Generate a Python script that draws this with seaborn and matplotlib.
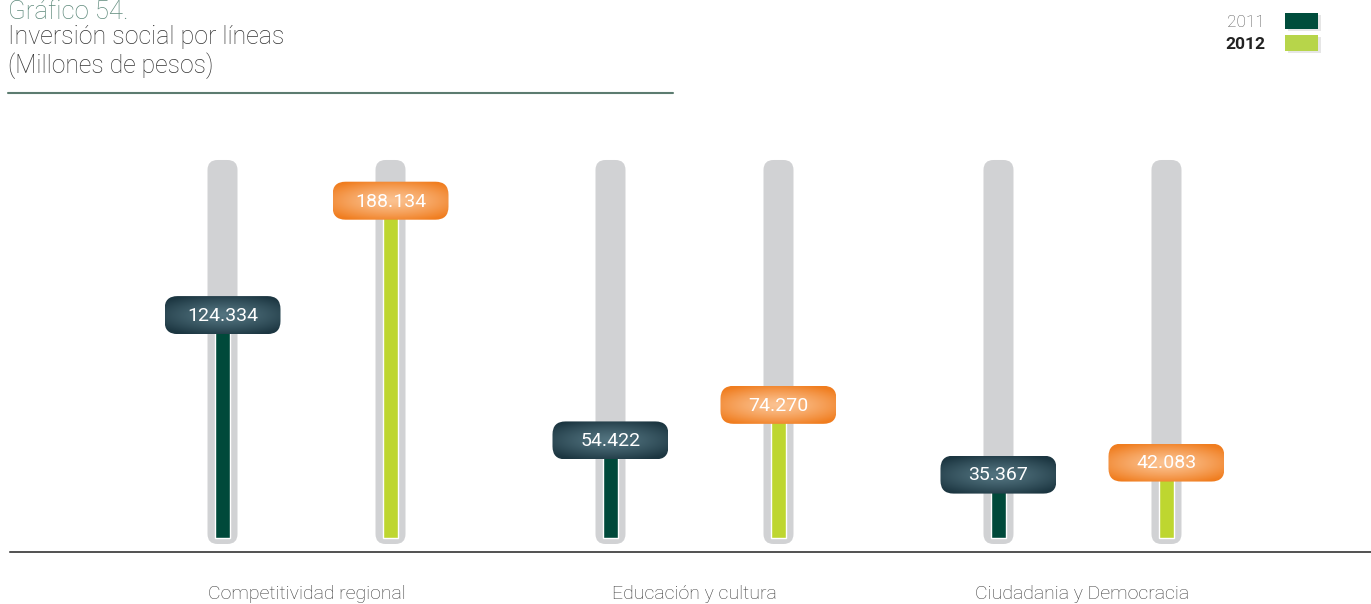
import numpy as np
import pandas as pd
import matplotlib.pyplot as plt
import seaborn as sns
from matplotlib.patches import FancyBboxPatch, Rectangle
from matplotlib.lines import Line2D
from matplotlib.colors import to_rgb

# --- data ---
lineas = ["Competitividad regional", "Educación y cultura", "Ciudadania y Democracia"]
anios = ["2011", "2012"]
valores_2011 = [124.334, 54.422, 35.367]
valores_2012 = [188.134, 74.270, 42.083]
etiquetas_2011 = ["124.334", "54.422", "35.367"]
etiquetas_2012 = ["188.134", "74.270", "42.083"]

colores = {"2011": "#00493a", "2012": "#bed630"}
tag_borde = {"2011": "#1c3641", "2012": "#f07d1f"}
tag_centro = {"2011": "#52737f", "2012": "#fbc291"}

df = pd.DataFrame({
    "linea": lineas * 2,
    "anio": ["2011"] * 3 + ["2012"] * 3,
    "valor": valores_2011 + valores_2012,
})

sns.set_style("white")
plt.rcParams["font.family"] = ["Roboto", "DejaVu Sans"]

W, H = 1371, 604
fig = plt.figure(figsize=(W / 100, H / 100), dpi=100)
ax_l, ax_r, ax_t, ax_b = 10, 1371, 100, 552
ax = fig.add_axes([ax_l / W, 1 - ax_b / H, (ax_r - ax_l) / W, (ax_b - ax_t) / H])
XLIM = (-0.7642, 2.7436)
YLIM = (-7.81, 244.3)
SX = (ax_r - ax_l) / (XLIM[1] - XLIM[0])   # px per x unit
SY = (ax_b - ax_t) / (YLIM[1] - YLIM[0])   # px per y unit

sns.barplot(data=df, x="linea", y="valor", hue="anio", hue_order=anios,
            palette=colores, width=0.866, dodge=True, legend=False,
            saturation=1, ax=ax, zorder=3)


def etiqueta(x, y, texto, borde, centro):
    w, h = 116 / SX, 38 / SY
    caja = FancyBboxPatch((x - w / 2, y - h / 2), w, h,
                          boxstyle=f"round,pad=0,rounding_size={13 / SX}",
                          mutation_aspect=SX / SY, facecolor="none",
                          edgecolor="none", zorder=4)
    ax.add_patch(caja)
    U, V = np.meshgrid(np.linspace(-1, 1, 160), np.linspace(-1, 1, 50))
    r = np.clip(np.sqrt(0.75 * U ** 2 + V ** 2) / 1.15, 0, 1) ** 1.3
    c0, c1 = np.array(to_rgb(centro)), np.array(to_rgb(borde))
    img = c0 + (c1 - c0) * r[..., None]
    im = ax.imshow(img, extent=(x - w / 2, x + w / 2, y - h / 2, y + h / 2),
                   zorder=4, interpolation="bilinear", origin="lower")
    im.set_clip_path(caja)
    ax.text(x, y - 0.5, texto, color="white", ha="center", va="center",
            fontsize=14, zorder=5)


riel_w = 30 / SX
barra_w = 15 / SX
for anio, cont, textos in zip(anios, ax.containers, [etiquetas_2011, etiquetas_2012]):
    for bar, txt in zip(cont, textos):
        cx = bar.get_x() + bar.get_width() / 2
        top = bar.get_height()
        bar.set_x(cx - barra_w / 2)
        bar.set_width(barra_w)
        # grey track behind the bar
        riel = FancyBboxPatch((cx - riel_w / 2, -6 / SY), riel_w, 384 / SY,
                              boxstyle=f"round,pad=0,rounding_size={10 / SX}",
                              mutation_aspect=SX / SY, facecolor="#d1d2d4",
                              edgecolor="none", zorder=1)
        ax.add_patch(riel)
        etiqueta(cx, top, txt, tag_borde[anio], tag_centro[anio])

ax.set_aspect("auto")
ax.set_xlim(*XLIM)
ax.set_ylim(*YLIM)
ax.set_xlabel("")
ax.set_ylabel("")
ax.set_yticks([])
for s in ["left", "right", "top"]:
    ax.spines[s].set_visible(False)
ax.spines["bottom"].set_color("#222222")
ax.spines["bottom"].set_linewidth(1.1)
ax.tick_params(axis="x", length=0, pad=24, labelsize=14, labelcolor="#3a3a3a")
for lbl in ax.get_xticklabels():
    lbl.set_fontweight("light")

# --- title block ---
fig.text(8 / W, 1 - 19 / H, "Gráfico 54.", fontsize=18.5, color="#5f8a7c",
         fontweight="light", va="baseline")
fig.text(8 / W, 1 - 44 / H, "Inversión social por líneas", fontsize=18,
         color="#333333", fontweight="light", va="baseline")
fig.text(8 / W, 1 - 73 / H, "(Millones de pesos)", fontsize=17.8,
         color="#333333", fontweight="light", va="baseline")
fig.add_artist(Line2D([8 / W, 673 / W], [1 - 93 / H, 1 - 93 / H],
                      color="#5c7c70", lw=1.5))

# --- legend ---
leg_colores = {"2011": "#004d3c", "2012": "#b7d54a"}
for i, anio in enumerate(anios):
    yc = 21 + 22 * i
    fig.text(1265 / W, 1 - (yc + 6) / H, anio, ha="right", va="baseline",
             fontsize=12.5, color="#555555" if i == 0 else "#222222",
             fontweight="light" if i == 0 else "bold")
    fig.add_artist(Rectangle(((1285 + 3) / W, 1 - (yc + 10) / H), 33 / W, 16 / H,
                             transform=fig.transFigure, facecolor="#e6e6e6",
                             edgecolor="none", zorder=1))
    fig.add_artist(Rectangle((1285 / W, 1 - (yc + 8) / H), 33 / W, 16 / H,
                             transform=fig.transFigure, facecolor=leg_colores[anio],
                             edgecolor="none", zorder=2))

fig.savefig("out.png", dpi=100)
